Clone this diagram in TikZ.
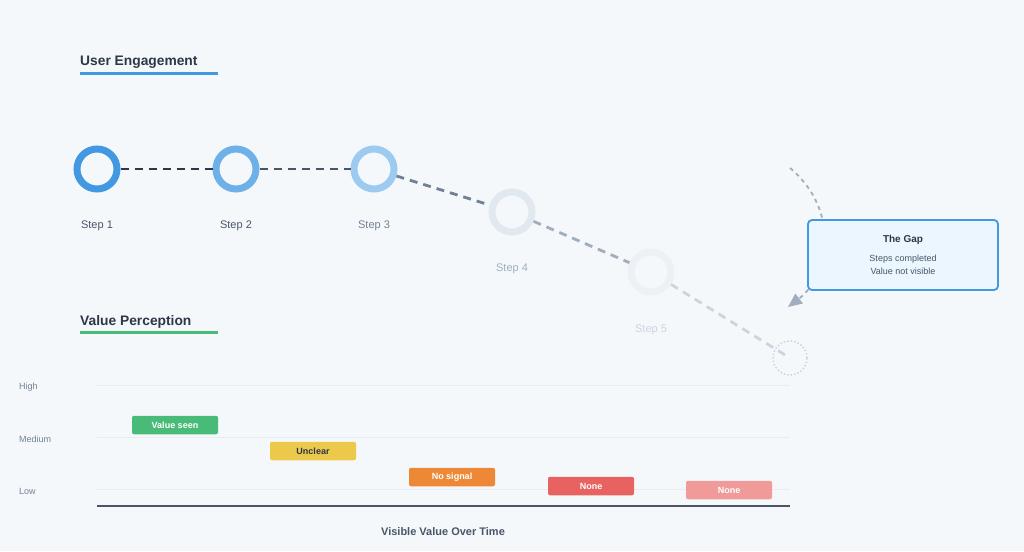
\documentclass[tikz,border=0pt]{standalone}
\usepackage{fontspec}
\setmainfont{Liberation Sans}
\usepackage{tikz}
\usetikzlibrary{arrows.meta,positioning}

\definecolor{bgc}{HTML}{F5F8FB}
\definecolor{ink}{HTML}{2D3748}
\definecolor{inkb}{HTML}{4A5568}
\definecolor{inkc}{HTML}{718096}
\definecolor{inkd}{HTML}{A0AEC0}
\definecolor{inke}{HTML}{CBD5E0}
\definecolor{blueA}{HTML}{4299E1}
\definecolor{blueB}{HTML}{6EB1E8}
\definecolor{blueC}{HTML}{9CCAF0}
\definecolor{grayA}{HTML}{E2E8F0}
\definecolor{grayB}{HTML}{EDF1F5}
\definecolor{gridc}{HTML}{E8ECF1}
\definecolor{greenc}{HTML}{48BB78}
\definecolor{yellowc}{HTML}{ECC94B}
\definecolor{orangec}{HTML}{ED8936}
\definecolor{redc}{HTML}{E86262}
\definecolor{pinkc}{HTML}{F09A9A}
\definecolor{gapfill}{HTML}{EBF6FF}

\begin{document}
\begin{tikzpicture}[x=1pt, y=-1pt,
  ring/.style={circle, draw, line width=7pt, minimum size=40pt, inner sep=0pt, fill=bgc},
  steplabel/.style={font=\fontsize{11}{13}\selectfont},
  title/.style={anchor=base west, font=\fontsize{13.8}{17}\selectfont\bfseries, text=ink, inner sep=0pt},
  link/.style={dashed, dash pattern=on 8pt off 6pt, line width=2.8pt},
  bar/.style={rectangle, rounded corners=2pt, minimum width=86pt, minimum height=18.5pt, inner sep=0pt,
    font=\fontsize{9}{11}\selectfont\bfseries, text=white},
  level/.style={anchor=west, font=\fontsize{9}{11}\selectfont, text=inkc, inner sep=0pt},
  grid/.style={draw=gridc, line width=1pt},
  arrow/.style={-{Triangle[length=14pt, width=12pt]}}]

\fill[bgc] (0,0) rectangle (1024,551);
\useasboundingbox (0,0) rectangle (1024,551);

% user engagement
\node[title] (uetitle) at (80,65) {User Engagement};
\draw[blueA, line width=3pt] (80,73) -- (218,73);

\node[ring, draw=blueA] (s1) at (97,169) {};
\node[ring, draw=blueB] (s2) at (236,169) {};
\node[ring, draw=blueC] (s3) at (374,169) {};
\node[ring, draw=grayA] (s4) at (512,212) {};
\node[ring, draw=grayB] (s5) at (651,272) {};
\node[circle, draw=inke, dotted, line width=1.5pt, minimum size=34pt, inner sep=0pt] (ghost) at (790,358) {};

\node[steplabel, text=inkb] (l1) at (97,226) {Step 1};
\node[steplabel, text=inkb] (l2) at (236,226) {Step 2};
\node[steplabel, text=inkc] (l3) at (374,226) {Step 3};
\node[steplabel, text=inkd] (l4) at (512,269) {Step 4};
\node[steplabel, text=inke] (l5) at (651,330) {Step 5};

\draw[link, ink] (s1) -- (s2);
\draw[link, inkb] (s2) -- (s3);
\draw[link, inkc] (s3) -- (s4);
\draw[link, inkd] (s4) -- (s5);
\draw[link, inke] (s5) -- (ghost.center);

% the gap
\coordinate (gapfrom) at (790,168);
\coordinate (gapto) at (788,307);
\draw[arrow, inkd, line width=1.8pt, dash pattern=on 4pt off 4pt]
  (gapfrom) .. controls (840,210) and (830,275) .. (gapto);
\node[draw=blueA, fill=gapfill, line width=1.8pt, rounded corners=4pt, minimum width=190pt, minimum height=70pt,
  align=center, text=inkb, font=\fontsize{9}{13.5}\selectfont] (gap) at (903,255)
  {\textcolor{ink}{\fontsize{10}{12}\selectfont\bfseries The Gap}\\[5pt]
   Steps completed\\Value not visible};

% value perception
\node[title] (vptitle) at (80,325) {Value Perception};
\draw[greenc, line width=3pt] (80,332) -- (218,332);

\node[level] (high) at (19,387) {High};
\node[level] (medium) at (19,439) {Medium};
\node[level] (low) at (19,491) {Low};
\draw[grid] (97,385) -- (790,385);
\draw[grid] (97,437) -- (790,437);
\draw[grid] (97,489) -- (790,489);
\draw[inkb, line width=2pt] (97,506) -- (790,506);

\node[bar, fill=greenc] (b1) at (175,425) {Value seen};
\node[bar, fill=yellowc, text=ink] (b2) at (313,451) {Unclear};
\node[bar, fill=orangec] (b3) at (452,477) {No signal};
\node[bar, fill=redc] (b4) at (591,486) {None};
\node[bar, fill=pinkc] (b5) at (729,490) {None};

\node[font=\fontsize{11}{13}\selectfont\bfseries, text=inkb] (xlabel) at (443,532) {Visible Value Over Time};

\end{tikzpicture}
\end{document}
